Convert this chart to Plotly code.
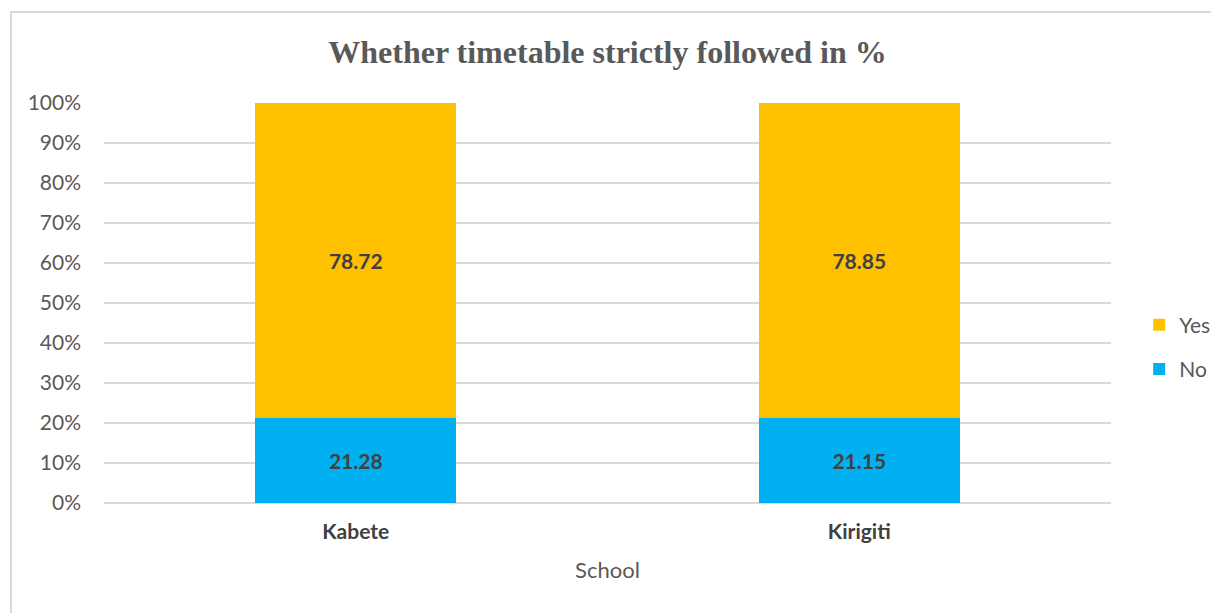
import plotly.graph_objects as go

schools = ["Kabete", "Kirigiti"]
no_vals = [21.28, 21.15]
yes_vals = [78.72, 78.85]
y_ticks = [0, 10, 20, 30, 40, 50, 60, 70, 80, 90, 100]
y_tick_labels = [f"{v}%" for v in y_ticks]

font_body = "Lato, Open Sans, sans-serif"

fig = go.Figure()
fig.add_trace(go.Bar(
    name="No", x=schools, y=no_vals, marker_color="#00B0F0",
    legendgroup="no", legendrank=2,
    text=[f"{v:.2f}" for v in no_vals], textposition="inside",
    insidetextanchor="middle",
    textfont=dict(family=font_body, size=21, color="#404040", weight="bold"),
    marker_line_width=0,
))
fig.add_trace(go.Bar(
    name="Yes", x=schools, y=yes_vals, marker_color="#FFC000",
    legendgroup="yes", legendrank=1,
    text=[f"{v:.2f}" for v in yes_vals], textposition="inside",
    insidetextanchor="middle",
    textfont=dict(family=font_body, size=21, color="#404040", weight="bold"),
    marker_line_width=0,
))

fig.update_layout(
    barmode="stack",
    bargap=0.6,
    width=1219, height=613,
    paper_bgcolor="white", plot_bgcolor="white",
    margin=dict(l=96, r=110, t=95, b=118),
    title=dict(
        text="<b>Whether timetable strictly followed in %</b>",
        x=0.5, xanchor="center", xref="paper", y=0.928, yanchor="middle",
        font=dict(family="Liberation Serif, Times New Roman, serif", size=32, color="#595959"),
    ),
    legend=dict(
        x=1.028, y=0.39, xanchor="left", yanchor="middle",
        traceorder="grouped",
        font=dict(family=font_body, size=21, color="#595959"),
        itemwidth=30, tracegroupgap=14, bgcolor="rgba(0,0,0,0)",
    ),
    xaxis=dict(
        title=dict(text="School", font=dict(family=font_body, size=22, color="#595959"), standoff=20),
        tickfont=dict(family=font_body, size=21, color="#404040", weight="bold"),
        showline=False, ticks="", showgrid=False,
        ticklabelstandoff=14,
    ),
    yaxis=dict(
        range=[0, 100], tickvals=y_ticks, ticktext=y_tick_labels,
        tickfont=dict(family=font_body, size=21, color="#595959"),
        showgrid=True, gridcolor="#D9D9D9", gridwidth=2,
        zeroline=True, zerolinecolor="#D9D9D9", zerolinewidth=2,
        ticks="", ticklen=0, ticklabelstandoff=22,
    ),
    shapes=[dict(type="rect", xref="paper", yref="paper",
                 x0=-0.0924, x1=1.2, y0=-0.35, y1=1.2275,
                 line=dict(color="#D9D9D9", width=2), fillcolor="rgba(0,0,0,0)", layer="below")],
)

fig.write_html("out.html")
